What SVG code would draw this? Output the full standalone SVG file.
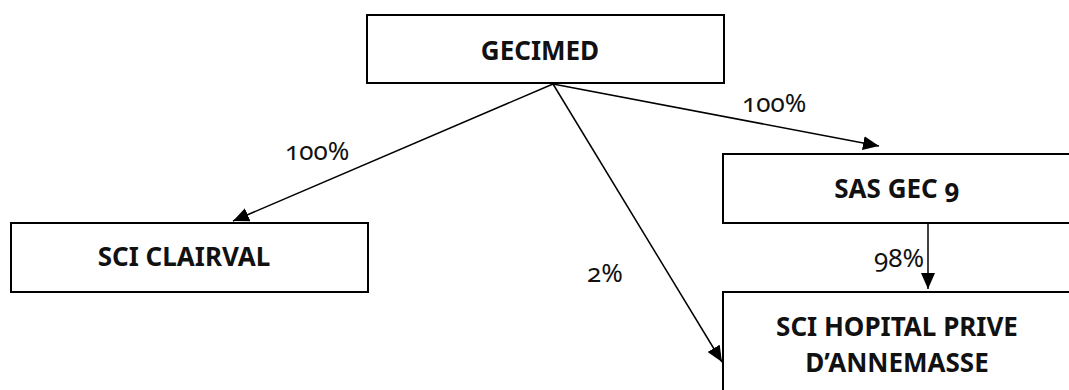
<svg xmlns="http://www.w3.org/2000/svg" width="1069" height="390" viewBox="0 0 1069 390">
<defs>
<style>
.box{fill:#fff;stroke:#000;stroke-width:2}
.lbl{font-family:"Noto Sans","Open Sans",sans-serif;font-weight:bold;font-size:26px;fill:#111;text-anchor:middle;font-variant-numeric:oldstyle-nums;font-feature-settings:"onum"}
.pct{font-family:"Noto Sans","Open Sans",sans-serif;font-size:26px;fill:#111;font-variant-numeric:oldstyle-nums;font-feature-settings:"onum"}
.con{stroke:#000;stroke-width:1.5;fill:none;marker-end:url(#ah)}
</style>
<marker id="ah" viewBox="0 0 16 14" refX="16" refY="7" markerWidth="16" markerHeight="14" markerUnits="userSpaceOnUse" orient="auto">
<path d="M0,0 L16,7 L0,14 z" fill="#000"/>
</marker>
</defs>
<g id="gecimed"><rect class="box" x="367" y="15" width="357" height="68"/><text class="lbl" x="540" y="60">GECIMED</text></g>
<g id="clairval"><rect class="box" x="11" y="223" width="357" height="69"/><text class="lbl" x="184" y="266">SCI CLAIRVAL</text></g>
<g id="sasgec9"><rect class="box" x="723" y="154" width="352" height="69"/><text class="lbl" x="897" y="198">SAS GEC 9</text></g>
<g id="hopital"><rect class="box" x="723" y="292" width="352" height="110"/><text class="lbl" x="897" y="336">SCI HOPITAL PRIVE</text><text class="lbl" x="897" y="372">D’ANNEMASSE</text></g>
<g id="connectors">
<line class="con" x1="553" y1="84" x2="233" y2="221"/>
<line class="con" x1="553" y1="84" x2="879" y2="146"/>
<line class="con" x1="553" y1="84" x2="722" y2="362"/>
<line class="con" x1="928" y1="223" x2="928" y2="289"/>
<text class="pct" x="285" y="160">100%</text>
<text class="pct" x="742" y="112">100%</text>
<text class="pct" x="587" y="282">2%</text>
<text class="pct" x="924" y="267" text-anchor="end">98%</text>
</g>
</svg>
